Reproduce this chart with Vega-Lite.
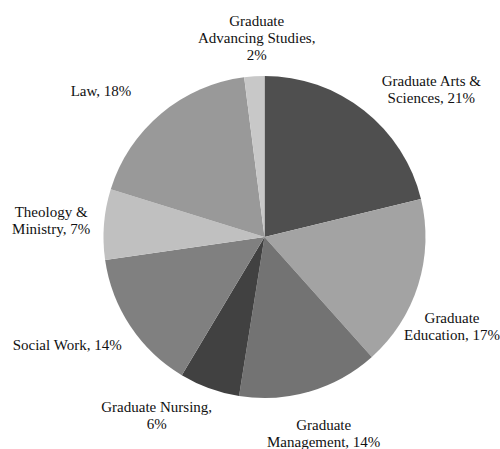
{
  "$schema": "https://vega.github.io/schema/vega-lite/v6.json",
  "width": 471,
  "height": 424,
  "autosize": {"type": "none"},
  "padding": {"left": 29, "top": 25, "right": 0, "bottom": 0},
  "background": "white",
  "view": {"stroke": null},
  "data": {
    "values": [
      {"school": "Graduate Arts & Sciences", "pct": 21, "ord": 1, "label": "Graduate Arts &\nSciences, 21%"},
      {"school": "Graduate Education", "pct": 17, "ord": 2, "label": "Graduate\nEducation, 17%"},
      {"school": "Graduate Management", "pct": 14, "ord": 3, "label": "Graduate\nManagement, 14%"},
      {"school": "Graduate Nursing", "pct": 6, "ord": 4, "label": "Graduate Nursing,\n6%"},
      {"school": "Social Work", "pct": 14, "ord": 5, "label": "Social Work, 14%"},
      {"school": "Theology & Ministry", "pct": 7, "ord": 6, "label": "Theology &\nMinistry, 7%"},
      {"school": "Law", "pct": 18, "ord": 7, "label": "Law, 18%"},
      {"school": "Graduate Advancing Studies", "pct": 2, "ord": 8, "label": "Graduate\nAdvancing Studies,\n2%"}
    ]
  },
  "encoding": {
    "theta": {"field": "pct", "type": "quantitative", "stack": true},
    "order": {"field": "ord", "type": "quantitative"}
  },
  "layer": [
    {
      "mark": {"type": "arc", "outerRadius": 161},
      "encoding": {
        "color": {
          "field": "school",
          "type": "nominal",
          "legend": null,
          "scale": {
            "domain": ["Graduate Arts & Sciences", "Graduate Education", "Graduate Management", "Graduate Nursing", "Social Work", "Theology & Ministry", "Law", "Graduate Advancing Studies"],
            "range": ["#4f4f4f", "#a3a3a3", "#737373", "#414141", "#808080", "#c0c0c0", "#999999", "#c8c8c8"]
          }
        }
      }
    },
    {
      "layer": [
        {"mark": {"type": "text", "dx": 37, "dy": 9}, "encoding": {"opacity": {"condition": {"test": "datum.ord == 1", "value": 1}, "value": 0}}},
        {"mark": {"type": "text", "dx": -13, "dy": 18.5}, "encoding": {"opacity": {"condition": {"test": "datum.ord == 2", "value": 1}, "value": 0}}},
        {"mark": {"type": "text", "dx": 0, "dy": -13.5}, "encoding": {"opacity": {"condition": {"test": "datum.ord == 3", "value": 1}, "value": 0}}},
        {"mark": {"type": "text", "dx": -36, "dy": -27}, "encoding": {"opacity": {"condition": {"test": "datum.ord == 4", "value": 1}, "value": 0}}},
        {"mark": {"type": "text", "dx": -22.5, "dy": -8}, "encoding": {"opacity": {"condition": {"test": "datum.ord == 5", "value": 1}, "value": 0}}},
        {"mark": {"type": "text", "dx": -4, "dy": -8.5}, "encoding": {"opacity": {"condition": {"test": "datum.ord == 6", "value": 1}, "value": 0}}},
        {"mark": {"type": "text", "dx": -28.5, "dy": 15}, "encoding": {"opacity": {"condition": {"test": "datum.ord == 7", "value": 1}, "value": 0}}},
        {"mark": {"type": "text", "dx": 5.5, "dy": -6.5}, "encoding": {"opacity": {"condition": {"test": "datum.ord == 8", "value": 1}, "value": 0}}}
      ],
      "encoding": {"text": {"field": "label"}}
    }
  ],
  "config": {
    "text": {"radius": 210, "font": "Liberation Serif", "fontSize": 15, "lineBreak": "\n", "lineHeight": 17, "align": "center", "baseline": "middle", "color": "#111111"}
  }
}
